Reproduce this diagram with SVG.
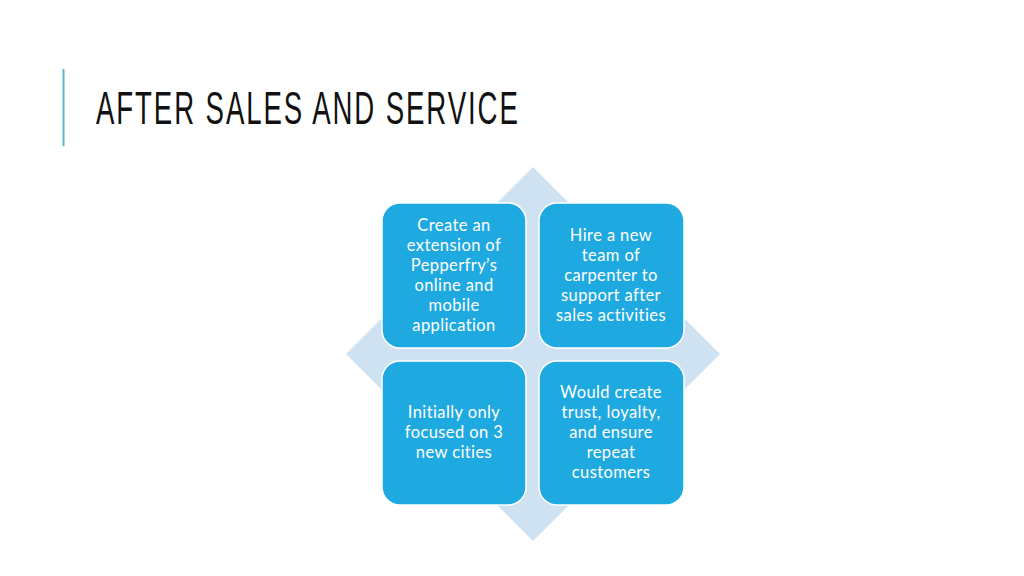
<svg xmlns="http://www.w3.org/2000/svg" width="1024" height="576" viewBox="0 0 1024 576">
<style>
.box{fill:#1FA9E1;stroke:#ffffff;stroke-width:1.5}
.t{font-family:"Lato","Liberation Sans",sans-serif;font-size:16.5px;letter-spacing:0.4px;fill:#ffffff;text-anchor:middle}
.title{font-family:"Liberation Sans",sans-serif;font-size:46px;fill:#111111}
</style>
<rect width="1024" height="576" fill="#ffffff"/>
<line x1="63.5" y1="69" x2="63.5" y2="146" stroke="#5AB7CB" stroke-width="2"/>
<g transform="scale(0.6,1)">
<text class="title" x="160" y="124" textLength="703" lengthAdjust="spacing">AFTER SALES AND SERVICE</text>
</g>
<polygon id="diamond" points="533,167 720,354 533,541 346,354" fill="#CFE2F2"/>
<g id="node-tl">
<rect class="box" x="382" y="203" width="144" height="145" rx="18"/>
<text class="t"><tspan x="454" y="231">Create an</tspan><tspan x="454" y="251">extension of</tspan><tspan x="454" y="271">Pepperfry’s</tspan><tspan x="454" y="291">online and</tspan><tspan x="454" y="311">mobile</tspan><tspan x="454" y="331">application</tspan></text>
</g>
<g id="node-tr">
<rect class="box" x="539" y="203" width="145" height="145" rx="18"/>
<text class="t"><tspan x="611" y="241">Hire a new</tspan><tspan x="611" y="261">team of</tspan><tspan x="611" y="281">carpenter to</tspan><tspan x="611" y="301">support after</tspan><tspan x="611" y="321">sales activities</tspan></text>
</g>
<g id="node-bl">
<rect class="box" x="382" y="361" width="144" height="144" rx="18"/>
<text class="t"><tspan x="454" y="418">Initially only</tspan><tspan x="454" y="438">focused on 3</tspan><tspan x="454" y="458">new cities</tspan></text>
</g>
<g id="node-br">
<rect class="box" x="539" y="361" width="145" height="144" rx="18"/>
<text class="t"><tspan x="611" y="398">Would create</tspan><tspan x="611" y="418">trust, loyalty,</tspan><tspan x="611" y="438">and ensure</tspan><tspan x="611" y="458">repeat</tspan><tspan x="611" y="478">customers</tspan></text>
</g>
<g id="connectors"></g>
</svg>
